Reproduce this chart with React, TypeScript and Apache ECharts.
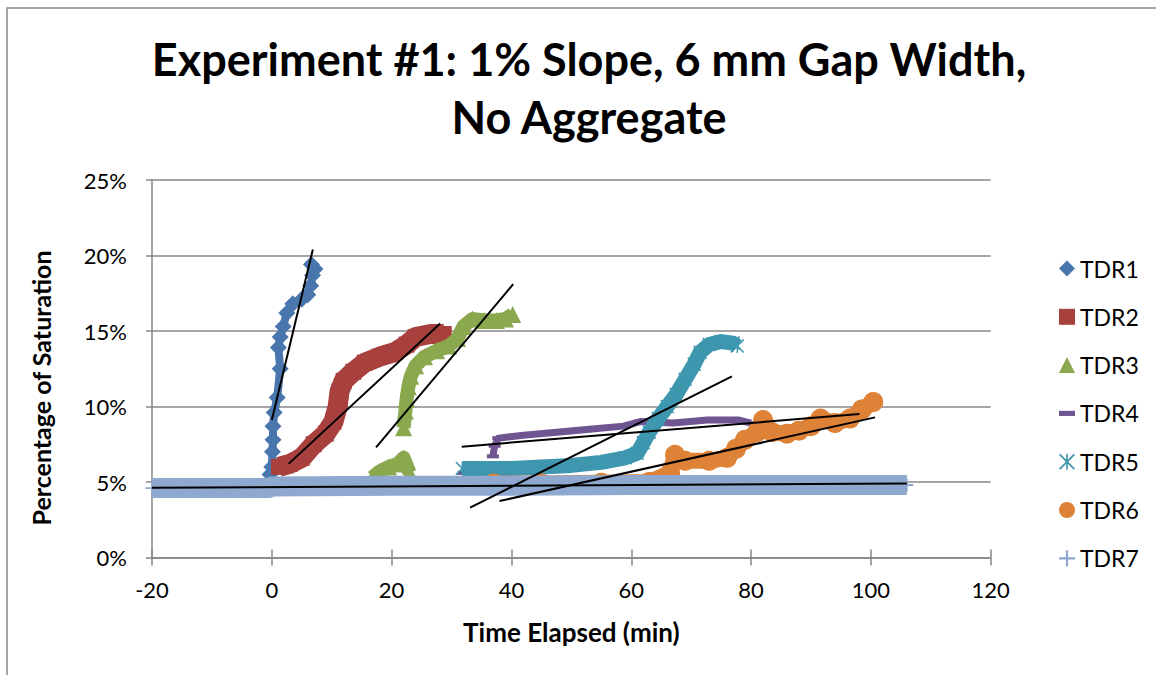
import React, { useEffect, useRef } from "react";
import * as echarts from "echarts";

const FONT = "Lato, 'Liberation Sans', sans-serif";

const TITLE = "Experiment #1: 1% Slope, 6 mm Gap Width,\nNo Aggregate";
const X_NAME = "Time Elapsed (min)";
const Y_NAME = "Percentage of Saturation";

const NAMES = ["TDR1", "TDR2", "TDR3", "TDR4", "TDR5", "TDR6", "TDR7"];
const COLORS = ["#4A76AE", "#A8413E", "#8AA84E", "#6F5592", "#3E97AF", "#DD8237", "#8EA8CF"];

// [time (min), saturation (%)]
const tdr1: [number, number][] = [
  [-0.3, 5.5], [0, 6.0], [0.1, 7.0], [0.2, 7.8], [0.2, 8.7], [0.4, 9.6], [0.9, 10.6],
  [1.4, 12.5], [1.1, 13.9], [1.4, 14.6], [1.9, 15.3], [2.5, 16.2], [3.5, 16.8],
  [5.0, 17.1], [6.0, 17.4], [6.5, 18.0], [6.8, 18.7], [7.2, 19.1], [6.6, 19.4],
];
const tdr2: (number | string)[][] = [
  [1.2, 6.0], [3, 6.2], [5, 6.6], [7, 7.5], [9, 8.2], [10.3, 9.0], [11, 10.0],
  [11.3, 11.0], [12, 11.7], [13.6, 12.3], [15.5, 12.9], [18, 13.3], [20.5, 13.6],
  [22.5, 14.1], [24, 14.6], [26.5, 14.8], [28.7, 14.8],
];
const tdr3: (number | string)[][] = [
  [16.8, 5.3], [18, 5.7], [19.5, 6.0], [21, 6.2], [22, 6.6], [23, 5.6], [22.5, "-"],
  [22.0, 8.6], [22.3, 9.7], [22.5, 10.5], [22.8, 11.3], [23.2, 12.0], [24, 12.7],
  [25.5, 13.3], [27.5, 13.7], [29.5, 14.0], [31, 14.5], [32, 15.3], [33.5, 15.8],
  [35.5, 15.7], [37.5, 15.7], [39, 15.8], [40.2, 16.1],
];
const tdr4: (number | string)[][] = [
  [32, 5.6], [34, 5.6], [35, "-"],
  [36.9, 6.7], [37.2, 7.4], [37.8, 7.9], [42, 8.1], [47.6, 8.3], [53, 8.5],
  [58.7, 8.7], [61.5, 9.0], [67, 8.9], [72.7, 9.1], [78, 9.1], [80, 8.9],
];
const tdr5: (number | string)[][] = [
  [31.8, 5.9], [35, 5.9], [40, 5.9], [45, 6.0], [50, 6.1], [55, 6.3], [59, 6.6],
  [61, 6.9], [62, 7.6], [63, 8.3], [64.5, 9.2], [66, 10.0], [67.5, 10.8], [69, 11.8],
  [70.5, 12.8], [71.5, 13.6], [73, 14.1], [75, 14.3], [77, 14.2], [77.7, 14.0],
];
const tdr6: (number | string)[][] = [
  [37, 4.9], [45, 4.9], [55, 4.95], [63, 5.0], [66.5, 5.6], [67.3, 6.8], [69, 6.4],
  [73, 6.4], [76, 6.6], [77.5, 7.2], [79, 7.8], [81, 8.3], [82, 9.1], [83.5, 8.3],
  [86, 8.2], [88, 8.4], [90, 8.7], [91.6, 9.2], [94, 8.9], [96.5, 9.2], [98.5, 9.8],
  [100.4, 10.3],
];
const tdr7: (number | string)[][] = [
  [-20, 4.6], [-10, 4.6], [-0.5, 4.6], [0, 4.7], [20, 4.75], [40, 4.75], [60, 4.8],
  [80, 4.8], [100, 4.8], [106, 4.8],
];

// linear trendlines: [start, end]
const trends: [number, number][][] = [
  [[0, 9.1], [6.85, 20.4]],
  [[2.8, 6.2], [28.1, 15.5]],
  [[17.4, 7.3], [40.3, 18.1]],
  [[31.7, 7.34], [98.1, 9.5]],
  [[33.1, 3.3], [76.8, 12.0]],
  [[38.0, 3.74], [100.7, 9.28]],
  [[-20, 4.62], [106, 4.9]],
];

const PLUS = "path://M4.3,0H5.7V4.3H10V5.7H5.7V10H4.3V5.7H0V4.3H4.3Z";
const STAR =
  "path://M0.8,0L5,4.2L9.2,0L10,0.8L5.8,5L10,9.2L9.2,10L5,5.8L0.8,10L0,9.2L4.2,5L0,0.8Z M4.5,0H5.5V10H4.5Z";
const DASH = "path://M0,0H10V3.2H0Z";

const SYMBOLS = ["diamond", "rect", "triangle", DASH, STAR, "circle", PLUS];
const SYMBOL_SIZES: any[] = [17, 16, 17, [12, 4], 14, 20, 13];
const LINE_WIDTHS = [8, 20, 14, 7, 15, 16, 20];
const DATA = [tdr1, tdr2, tdr3, tdr4, tdr5, tdr6, tdr7];

export default function App() {
  const ref = useRef<HTMLDivElement>(null);
  useEffect(() => {
    if (!ref.current) return;
    const chart = echarts.init(ref.current, undefined, { renderer: "svg" });
    const series: any[] = NAMES.map((name, i) => ({
      name,
      type: "line",
      data: DATA[i],
      symbol: SYMBOLS[i],
      symbolSize: SYMBOL_SIZES[i],
      showSymbol: true,
      connectNulls: false,
      clip: false,
      itemStyle: { color: COLORS[i], opacity: 1 },
      lineStyle: { color: COLORS[i], width: LINE_WIDTHS[i], join: "round", cap: "butt" },
      z: 2 + i * 0.01,
    }));
    trends.forEach((t, i) => {
      series.push({
        name: "trend" + (i + 1),
        type: "line",
        data: t,
        symbol: "none",
        lineStyle: { color: "#000", width: 2 },
        z: 5,
        silent: true,
      });
    });

    const axisGray = "#878787";
    chart.setOption({
      animation: false,
      backgroundColor: "#fff",
      title: {
        text: TITLE,
        left: 584,
        top: 25,
        textAlign: "center",
        textStyle: { fontFamily: FONT, fontSize: 45, fontWeight: "bold", color: "#000", lineHeight: 58 },
      },
      graphic: [
        {
          type: "rect",
          shape: { x: 7, y: 8, width: 1200, height: 700 },
          style: { fill: "none", stroke: "#888", lineWidth: 1.5 },
          silent: true,
          z: -10,
        },
        {
          type: "text",
          x: 41,
          y: 388,
          rotation: Math.PI / 2,
          silent: true,
          style: {
            text: Y_NAME,
            fontFamily: FONT,
            fontSize: 25,
            fontWeight: "bold",
            fill: "#000",
            align: "center",
            verticalAlign: "middle",
          },
        },
      ],
      legend: {
        orient: "vertical",
        left: 1054,
        top: 252,
        itemWidth: 16,
        itemHeight: 16,
        itemGap: 25.3,
        textStyle: { fontFamily: FONT, fontSize: 23, color: "#000" },
        data: NAMES.map((n, i) => ({ name: n, icon: SYMBOLS[i] })),
        selectedMode: false,
      },
      grid: { left: 152, right: 165.3, top: 180, bottom: 117.5, containLabel: false },
      xAxis: [
        {
          type: "value",
          min: -20,
          max: 120,
          interval: 20,
          axisLine: { show: true, onZero: false, lineStyle: { color: axisGray, width: 1.5 } },
          axisTick: { show: true, inside: true, length: 8, lineStyle: { color: axisGray, width: 1.5 } },
          axisLabel: { color: "#000", fontFamily: FONT, fontSize: 22, margin: 21 },
          splitLine: { show: false },
          name: X_NAME,
          nameLocation: "middle",
          nameGap: 61,
          nameTextStyle: { fontFamily: FONT, fontSize: 26, fontWeight: "bold", color: "#000" },
        },
        {
          type: "value",
          min: -20,
          max: 120,
          interval: 20,
          position: "bottom",
          axisLine: { show: false, onZero: false },
          axisTick: { show: true, length: 8, lineStyle: { color: axisGray, width: 1.5 } },
          axisLabel: { show: false },
          splitLine: { show: false },
        },
      ],
      yAxis: {
        type: "value",
        min: 0,
        max: 25,
        interval: 5,
        axisLine: { show: true, onZero: false, lineStyle: { color: axisGray, width: 1.5 } },
        axisTick: { show: true, length: 6, lineStyle: { color: axisGray, width: 1.5 } },
        axisLabel: { color: "#000", fontFamily: FONT, fontSize: 22, margin: 25, formatter: "{value}%" },
        splitLine: { show: true, lineStyle: { color: axisGray, width: 1.5 } },
      },
      series,
    });
    return () => chart.dispose();
  }, []);
  return (
    <div
      ref={ref}
      style={{ position: "fixed", left: 0, top: 0, width: 1156, height: 675, background: "#fff" }}
    />
  );
}
